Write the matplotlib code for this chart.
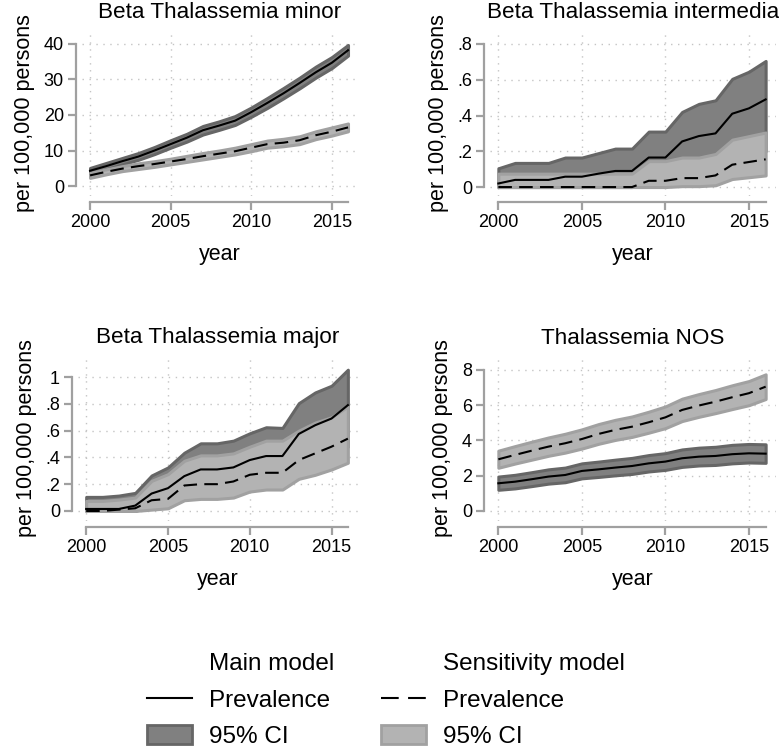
import numpy as np
import matplotlib
matplotlib.use("Agg")
from matplotlib import pyplot as plt
from matplotlib.lines import Line2D
from matplotlib.patches import Patch

plt.rcParams['font.family'] = ['Liberation Sans', 'DejaVu Sans']

years = list(range(2000, 2017))

# Beta Thalassemia minor
minor_main = [4.3, 5.6, 7.0, 8.3, 10.0, 11.8, 13.6, 15.7, 17.0, 18.4, 20.8, 23.4, 26.1, 29.0, 32.0, 34.7, 38.2]
minor_main_lo = [3.5, 4.7, 6.1, 7.4, 9.0, 10.8, 12.5, 14.5, 15.8, 17.2, 19.5, 22.0, 24.7, 27.5, 30.5, 33.2, 36.7]
minor_main_hi = [5.1, 6.5, 7.9, 9.3, 11.0, 12.9, 14.7, 16.9, 18.2, 19.7, 22.1, 24.8, 27.6, 30.5, 33.6, 36.3, 39.7]
minor_sens = [3.0, 4.0, 4.9, 5.6, 6.2, 6.9, 7.6, 8.4, 9.1, 9.8, 10.8, 11.8, 12.2, 12.9, 14.3, 15.3, 16.5]
minor_sens_lo = [2.3, 3.3, 4.2, 4.8, 5.4, 6.1, 6.8, 7.5, 8.2, 8.9, 9.8, 10.8, 11.2, 11.8, 13.2, 14.2, 15.4]
minor_sens_hi = [3.7, 4.7, 5.6, 6.4, 7.0, 7.7, 8.5, 9.3, 10.0, 10.8, 11.8, 12.8, 13.3, 14.0, 15.4, 16.5, 17.6]

# Beta Thalassemia intermedia
inter_main = [0.02, 0.04, 0.04, 0.04, 0.058, 0.058, 0.075, 0.09, 0.09, 0.165, 0.165, 0.255, 0.285, 0.30, 0.41, 0.44, 0.49]
inter_main_lo = [0, 0, 0, 0, 0, 0, 0, 0, 0, 0.04, 0.04, 0.07, 0.08, 0.09, 0.15, 0.17, 0.2]
inter_main_hi = [0.105, 0.135, 0.135, 0.135, 0.165, 0.165, 0.19, 0.215, 0.215, 0.31, 0.31, 0.42, 0.465, 0.485, 0.605, 0.645, 0.705]
inter_sens = [0, 0, 0, 0, 0, 0, 0, 0, 0, 0.035, 0.035, 0.05, 0.05, 0.065, 0.125, 0.14, 0.155]
inter_sens_lo = [0, 0, 0, 0, 0, 0, 0, 0, 0, 0, 0, 0.005, 0.005, 0.01, 0.045, 0.055, 0.065]
inter_sens_hi = [0.075, 0.075, 0.075, 0.075, 0.075, 0.075, 0.075, 0.075, 0.075, 0.145, 0.145, 0.165, 0.165, 0.185, 0.265, 0.285, 0.305]

# Beta Thalassemia major
major_main = [0.015, 0.015, 0.015, 0.04, 0.13, 0.17, 0.26, 0.31, 0.31, 0.325, 0.38, 0.41, 0.41, 0.575, 0.64, 0.69, 0.79]
major_main_lo = [0, 0, 0, 0, 0.04, 0.06, 0.12, 0.15, 0.15, 0.16, 0.2, 0.22, 0.22, 0.32, 0.37, 0.41, 0.48]
major_main_hi = [0.105, 0.105, 0.115, 0.135, 0.265, 0.325, 0.435, 0.505, 0.505, 0.525, 0.58, 0.625, 0.62, 0.805, 0.885, 0.935, 1.055]
major_sens = [0, 0, 0.01, 0.02, 0.08, 0.09, 0.19, 0.2, 0.2, 0.22, 0.27, 0.285, 0.285, 0.38, 0.43, 0.48, 0.54]
major_sens_lo = [0, 0, 0, 0, 0.01, 0.02, 0.08, 0.09, 0.09, 0.1, 0.145, 0.16, 0.16, 0.24, 0.27, 0.31, 0.36]
major_sens_hi = [0.075, 0.075, 0.085, 0.1, 0.225, 0.275, 0.375, 0.415, 0.415, 0.43, 0.48, 0.525, 0.525, 0.6, 0.66, 0.7, 0.78]

# Thalassemia NOS
nos_main = [1.57, 1.66, 1.80, 1.95, 2.04, 2.27, 2.36, 2.46, 2.55, 2.70, 2.80, 2.99, 3.08, 3.12, 3.22, 3.27, 3.25]
nos_main_lo = [1.20, 1.28, 1.41, 1.55, 1.63, 1.85, 1.93, 2.02, 2.10, 2.24, 2.33, 2.50, 2.58, 2.61, 2.70, 2.75, 2.73]
nos_main_hi = [1.95, 2.05, 2.20, 2.36, 2.46, 2.70, 2.80, 2.91, 3.01, 3.17, 3.28, 3.49, 3.59, 3.64, 3.75, 3.80, 3.78]
nos_sens = [2.93, 3.18, 3.42, 3.65, 3.84, 4.08, 4.37, 4.60, 4.78, 5.03, 5.31, 5.73, 5.98, 6.20, 6.45, 6.68, 7.05]
nos_sens_lo = [2.45, 2.69, 2.91, 3.13, 3.31, 3.54, 3.81, 4.03, 4.20, 4.44, 4.70, 5.10, 5.34, 5.55, 5.78, 6.00, 6.35]
nos_sens_hi = [3.42, 3.68, 3.93, 4.17, 4.38, 4.63, 4.93, 5.17, 5.36, 5.63, 5.93, 6.37, 6.63, 6.86, 7.13, 7.37, 7.75]

titles = ["Beta Thalassemia minor", "Beta Thalassemia intermedia",
          "Beta Thalassemia major", "Thalassemia NOS"]
yticks = [[0, 10, 20, 30, 40], [0, .2, .4, .6, .8], [0, .2, .4, .6, .8, 1], [0, 2, 4, 6, 8]]
yticklabels = [["0", "10", "20", "30", "40"], ["0", ".2", ".4", ".6", ".8"],
               ["0", ".2", ".4", ".6", ".8", "1"], ["0", "2", "4", "6", "8"]]
ylims = [(-2.8, 43.9), (-0.05, 0.878), (-0.075, 1.157), (-0.57, 8.79)]
series = [
    (minor_main, minor_main_lo, minor_main_hi, minor_sens, minor_sens_lo, minor_sens_hi),
    (inter_main, inter_main_lo, inter_main_hi, inter_sens, inter_sens_lo, inter_sens_hi),
    (major_main, major_main_lo, major_main_hi, major_sens, major_sens_lo, major_sens_hi),
    (nos_main, nos_main_lo, nos_main_hi, nos_sens, nos_sens_lo, nos_sens_hi),
]

W, H = 779, 751
# axes boxes in pixels: left, top, right, bottom
boxes = [(82, 30, 358, 196), (490, 30, 776, 196), (78, 356, 358, 521), (490, 356, 776, 521)]

DARK, DARK_EDGE = "#808080", "#666666"
LIGHT, LIGHT_EDGE = "#b3b3b3", "#a1a1a1"
AXIS_GRAY = "#a0a0a0"
DASH = (6.5, 3.5)

fig = plt.figure(figsize=(W / 100, H / 100), dpi=100)

for i in range(4):
    l, t, r, b = boxes[i]
    ax = fig.add_axes([l / W, 1 - b / H, (r - l) / W, (b - t) / H])
    m, mlo, mhi, s, slo, shi = series[i]

    ax.fill_between(years, mlo, mhi, facecolor=DARK, edgecolor=DARK_EDGE, linewidth=2.2, zorder=2)
    ax.fill_between(years, slo, shi, facecolor=LIGHT, edgecolor=LIGHT_EDGE, linewidth=2.2, zorder=3)
    ax.plot(years, m, color="black", linewidth=1.5, zorder=5)
    ax.plot(years, s, color="black", linewidth=1.5, dashes=DASH, zorder=5)

    ax.set_xlim(1999.5, 2016.62)
    ax.set_ylim(*ylims[i])
    ax.set_xticks([2000, 2005, 2010, 2015])
    ax.set_yticks(yticks[i])
    ax.set_yticklabels(yticklabels[i])
    ax.grid(True, linestyle=(0, (1, 4)), color="#c4c4c4", linewidth=1.0, zorder=0)
    ax.set_axisbelow(True)

    for sp in ["top", "right"]:
        ax.spines[sp].set_visible(False)
    ax.spines["left"].set_position(("outward", 4))
    ax.spines["bottom"].set_position(("outward", 4))
    ax.spines["left"].set_bounds(yticks[i][0], yticks[i][-1])
    ax.spines["bottom"].set_bounds(2000, 2016)
    for sp in ["left", "bottom"]:
        ax.spines[sp].set_color(AXIS_GRAY)
        ax.spines[sp].set_linewidth(1.6)
    ax.tick_params(axis="both", colors=AXIS_GRAY, labelcolor="black", length=6, width=1.6,
                   labelsize=13, pad=3)

    ax.set_title(titles[i], fontsize=16.2, pad=9)
    ax.set_xlabel("year", fontsize=15.5, labelpad=9)
    ax.set_ylabel("per 100,000 persons", fontsize=15.5, labelpad=6)

handles = [
    Line2D([], [], linestyle="none"),
    Line2D([], [], color="black", linewidth=1.5),
    Patch(facecolor=DARK, edgecolor=DARK_EDGE, linewidth=2),
    Line2D([], [], linestyle="none"),
    Line2D([], [], color="black", linewidth=1.5, dashes=(8.5, 4.5)),
    Patch(facecolor=LIGHT, edgecolor=LIGHT_EDGE, linewidth=2),
]
labels = ["Main model", "Prevalence", "95% CI", "Sensitivity model", "Prevalence", "95% CI"]
fig.legend(handles, labels, ncol=2, loc="center", bbox_to_anchor=(386 / W, 1 - 700 / H),
           frameon=False, fontsize=17.5, handlelength=1.85, handleheight=0.85,
           handletextpad=0.7, columnspacing=1.9, labelspacing=0.55)

fig.savefig("out.png", dpi=100, facecolor="white")
